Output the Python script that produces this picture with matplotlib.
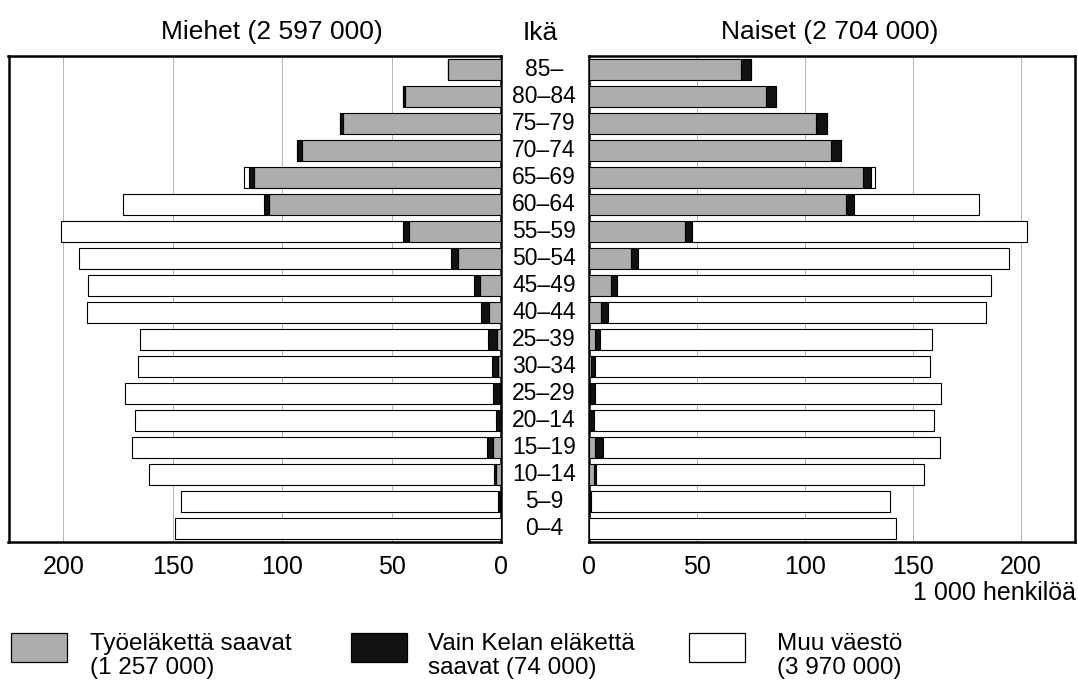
import matplotlib
matplotlib.use("Agg")
import matplotlib.pyplot as plt
from matplotlib.patches import Rectangle
from matplotlib.transforms import blended_transform_factory
import numpy as np

plt.rcParams['font.family'] = ['Liberation Sans', 'DejaVu Sans']

# ---- data (thousands of persons), top row first ----
ages = ['85–', '80–84', '75–79', '70–74', '65–69', '60–64', '55–59', '50–54',
        '45–49', '40–44', '25–39', '30–34', '25–29', '20–14', '15–19',
        '10–14', '5–9', '0–4']

men_tyo = [24, 44, 72, 91, 113, 106, 42, 19.5, 9.5, 5.5, 2, 1.5, 0.3, 0, 3.8, 2.4, 0.3, 0]
men_kela = [0, 0.8, 1.5, 2, 2, 2.5, 3, 3.5, 3, 3.5, 4, 2.5, 3.5, 2.4, 2.7, 1, 1.2, 0]
men_muu = [0, 0, 0, 0, 2.5, 64, 156, 170, 176, 180, 159, 162, 168, 165, 162, 157.5, 144.5, 149]

women_tyo = [70.5, 82, 105, 112, 127, 119, 44.6, 19.4, 10, 5.6, 3, 0.8, 0.3, 0, 3, 2.4, 0.3, 0]
women_kela = [4.5, 4.5, 5, 4.5, 3.5, 3.5, 3.3, 3.4, 3, 3, 2, 2.2, 2.7, 2.4, 3.6, 1, 0.7, 0]
women_muu = [0, 0, 0, 0, 1.7, 58, 155, 171.6, 173, 175, 154, 155, 160, 157.5, 156, 151.7, 138.3, 142]

ticks = [0, 50, 100, 150, 200]
tick_labels = ['0', '50', '100', '150', '200']

title_men = 'Miehet (2 597 000)'
title_women = 'Naiset (2 704 000)'
title_age = 'Ikä'
unit_label = '1 000 henkilöä'
legend_labels = [('Työeläkettä saavat', '(1 257 000)'),
                 ('Vain Kelan eläkettä', 'saavat (74 000)'),
                 ('Muu väestö', '(3 970 000)')]

GRAY = '#adadad'
BLACK = '#111111'
WHITE = '#ffffff'
colors = [GRAY, BLACK, WHITE]

W, H = 1078, 680
fig = plt.figure(figsize=(W / 100, H / 100), dpi=100)


def fx(px):
    return px / W


def fy(py):
    return 1 - py / H


ax_top, ax_bot = 56, 542
axL = fig.add_axes([fx(8.5), fy(ax_bot), fx(501 - 8.5), (ax_bot - ax_top) / H])
axR = fig.add_axes([fx(589), fy(ax_bot), fx(1075 - 589), (ax_bot - ax_top) / H])

y = np.arange(len(ages))
bar_h = 0.78

for ax, series in ((axL, (men_tyo, men_kela, men_muu)),
                   (axR, (women_tyo, women_kela, women_muu))):
    left = np.zeros(len(ages))
    for vals, c in zip(series, colors):
        v = np.array(vals, dtype=float)
        ax.barh(y, v, left=left, height=bar_h, color=c, edgecolor='black',
                linewidth=0.8, zorder=3)
        left += v
    ax.set_ylim(len(ages) - 0.5, -0.5)
    ax.set_yticks([])
    ax.set_xticks(ticks)
    ax.grid(axis='x', color='#b5b5b5', linewidth=0.7, zorder=0)
    ax.set_axisbelow(True)
    ax.tick_params(axis='x', length=0, pad=9, labelsize=18)
    for s in ax.spines.values():
        s.set_linewidth(1.8)
        s.set_color('black')

axL.set_xlim(225, 0)
axR.set_xlim(0, 225)
axL.set_xticklabels(tick_labels)
axR.set_xticklabels(tick_labels)

# titles
fig.text(fx(272), fy(39.5), title_men, ha='center', va='baseline', fontsize=19)
fig.text(fx(830), fy(39.5), title_women, ha='center', va='baseline', fontsize=19)
fig.text(fx(540.5), fy(39.5), title_age, ha='center', va='baseline', fontsize=19)

# age labels between panels
tr = blended_transform_factory(fig.transFigure, axR.transData)
for i, a in enumerate(ages):
    fig.text(fx(544), i, a, ha='center', va='center', fontsize=16.5, transform=tr)

# unit label
fig.text(fx(1076), fy(600), unit_label, ha='right', va='baseline', fontsize=18)

# legend
patch_x = [10.7, 350.7, 689]
text_x = [90, 427.5, 777]
for px, tx, c, (l1, l2) in zip(patch_x, text_x, colors, legend_labels):
    fig.add_artist(Rectangle((fx(px), fy(661.7)), fx(56), (661.7 - 632.7) / H,
                             transform=fig.transFigure, facecolor=c,
                             edgecolor='black', linewidth=0.9))
    fig.text(fx(tx), fy(650), l1, ha='left', va='baseline', fontsize=17.5)
    fig.text(fx(tx), fy(674), l2, ha='left', va='baseline', fontsize=17.5)

fig.savefig('out.png', dpi=100)
